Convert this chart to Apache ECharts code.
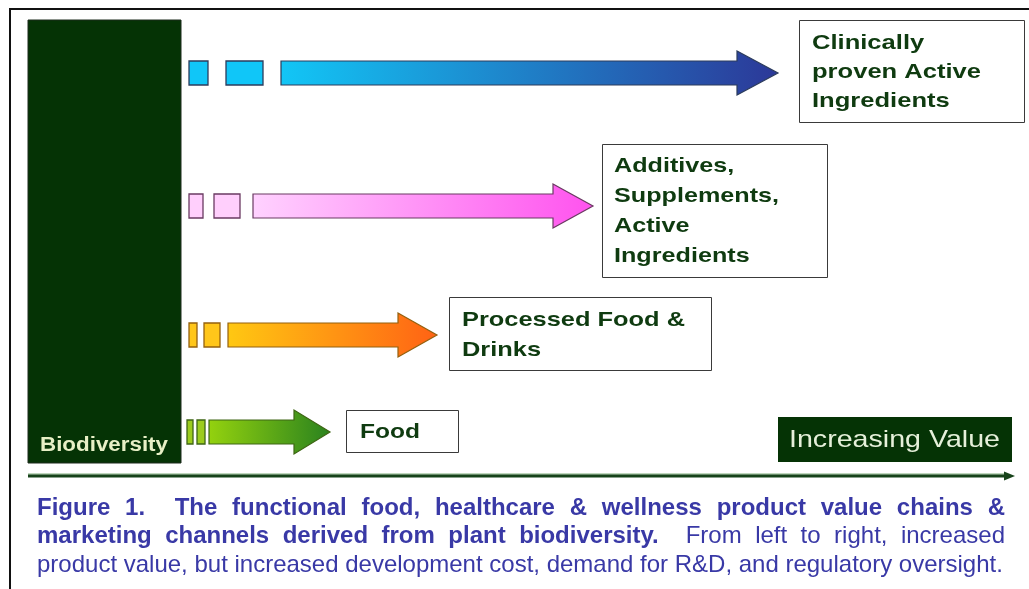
<!DOCTYPE html>
<html lang="en">
<head>
<meta charset="UTF-8">
<title>Plant biodiversity value chains</title>
<script src="https://cdn.jsdelivr.net/npm/echarts@6/dist/echarts.min.js"></script>
<style>
    html, body { margin: 0; padding: 0; background: #fff; }
    #main { width: 1029px; height: 589px; }
</style>
</head>
<body>
<div id="main"></div>
<script>
    // channels, from the bottom row to the top row
    var channels = ['Food', 'Processed Food & Drinks', 'Additives, Supplements, Active Ingredients', 'Clinically proven Active Ingredients'];
    var labelLines = [
        ['Food'],
        ['Processed Food &', 'Drinks'],
        ['Additives,', 'Supplements,', 'Active', 'Ingredients'],
        ['Clinically', 'proven Active', 'Ingredients']
    ];
    // how far right (value scale) each arrow reaches, and the level of its row
    var arrowTip = [330, 437, 593, 778];
    var rowLevel = [432, 335, 206, 73];

    var sourceName = 'Biodiversity';
    var axisName = 'Increasing Value';
    var captionLines = [
        [{ t: 'Figure 1.  The functional food, healthcare & wellness product value chains &', bold: true }],
        [{ t: 'marketing channels derived from plant biodiversity.', bold: true }, { t: ' From left to right, increased', bold: false }],
        [{ t: 'product value, but increased development cost, demand for R&D, and regulatory oversight.', bold: false }]
    ];

    // ---- layout / style (not data) ----
    var stubs = [            // square1 x0,x1, square2 x0,x1, shaft start
        [187, 193, 197, 205, 209],
        [189, 197, 204, 220, 228],
        [189, 203, 214, 240, 253],
        [189, 208, 226, 263, 281]
    ];
    var headLen = [36, 39, 40, 41];
    var shaftHalf = 12, headHalf = 22;
    var arrowColors = [
        ['#94d20e', '#2a821e'],
        ['#ffc812', '#ff6214'],
        ['#ffd2ff', '#ff52ee'],
        ['#12c6f6', '#2c3898']
    ];
    var squareColors = ['#9ccc1e', '#ffc61a', '#ffcffc', '#10c6f8'];
    var strokeColors = ['#3e6614', '#94600e', '#6a3a62', '#2c3c5c'];
    var boxes = [            // x, y, w, h, first line y, line step, text x, widest line width
        [346, 410, 112, 42, 432, 30, 360, 60],
        [449, 297, 262, 73, 320, 30, 462, 223],
        [602, 144, 225, 133, 166, 30.2, 614, 165],
        [799, 20, 225, 102, 43, 29, 812, 169]
    ];
    var darkGreen = '#053305';
    var boxTextColor = '#0f3b10';
    var captionColor = '#3939a6';

    var measureCtx = document.createElement('canvas').getContext('2d');
    function textWidth(str, font) {
        measureCtx.font = font;
        return measureCtx.measureText(str).width;
    }

    var chartDom = document.getElementById('main');
    var myChart = echarts.init(chartDom);

    // arrows with their two leading squares
    function renderArrow(params, api) {
        var i = api.value(2);
        var tip = api.value(0), lv = api.value(1);
        var s = stubs[i];
        var c = function (x, y) { return api.coord([x, y]); };
        var sq = function (x0, x1) {
            var a = c(x0, lv - shaftHalf), b = c(x1, lv + shaftHalf);
            return {
                type: 'rect',
                shape: { x: a[0], y: a[1], width: b[0] - a[0], height: b[1] - a[1] },
                style: { fill: squareColors[i], stroke: strokeColors[i], lineWidth: 1.3 }
            };
        };
        var hb = tip - headLen[i];
        var pts = [
            [s[4], lv - shaftHalf], [hb, lv - shaftHalf], [hb, lv - headHalf], [tip, lv],
            [hb, lv + headHalf], [hb, lv + shaftHalf], [s[4], lv + shaftHalf]
        ].map(function (p) { return c(p[0], p[1]); });
        return {
            type: 'group',
            children: [
                sq(s[0], s[1]),
                sq(s[2], s[3]),
                {
                    type: 'polygon',
                    shape: { points: pts },
                    style: {
                        fill: new echarts.graphic.LinearGradient(0, 0, 1, 0, [
                            { offset: 0, color: arrowColors[i][0] },
                            { offset: 1, color: arrowColors[i][1] }
                        ]),
                        stroke: strokeColors[i],
                        lineWidth: 1.2
                    }
                }
            ]
        };
    }

    // destination boxes
    function renderBox(params, api) {
        var i = api.value(0);
        var b = boxes[i];
        var a = api.coord([b[0], b[1]]), z = api.coord([b[0] + b[2], b[1] + b[3]]);
        var children = [{
            type: 'rect',
            shape: { x: a[0] + 0.5, y: a[1] + 0.5, width: z[0] - a[0], height: z[1] - a[1] },
            style: { fill: '#fff', stroke: '#3a3a3a', lineWidth: 1 }
        }];
        var font = 'bold 21px "Liberation Sans"';
        var widest = Math.max.apply(null, labelLines[i].map(function (l) { return textWidth(l, font); }));
        var sx = b[7] / widest;
        labelLines[i].forEach(function (line, k) {
            var p = api.coord([b[6], b[4] + k * b[5]]);
            children.push({
                type: 'text', x: p[0], y: p[1], scaleX: sx,
                style: {
                    text: line, x: 0, y: 0,
                    font: font, fill: boxTextColor,
                    textAlign: 'left', textVerticalAlign: 'middle'
                }
            });
        });
        return { type: 'group', children: children };
    }

    // source block and the value axis line
    function renderFrame(params, api) {
        var a = api.coord([28, 20]), z = api.coord([181, 463]);
        var la = api.coord([28, 476]), lz = api.coord([1006, 476]), tip = api.coord([1015, 476]);
        var va = api.coord([778, 417]), vz = api.coord([1012, 462]);
        var bt = api.coord([40, 445]), vt = api.coord([789, 440]);
        var bioFont = 'bold 20px "Liberation Sans"';
        var bioScale = 128 / textWidth(sourceName, bioFont);
        var valFont = '24px "Liberation Sans"';
        var valScale = 211 / textWidth(axisName, valFont);
        return {
            type: 'group',
            children: [
                { type: 'rect', shape: { x: a[0], y: a[1], width: z[0] - a[0], height: z[1] - a[1] },
                  style: { fill: darkGreen, stroke: '#1c2a1c', lineWidth: 1 } },
                { type: 'text', x: bt[0], y: bt[1], scaleX: bioScale,
                  style: { text: sourceName, x: 0, y: 0, font: bioFont, fill: '#e8f0c6',
                           textAlign: 'left', textVerticalAlign: 'middle' } },
                { type: 'line', shape: { x1: la[0], y1: la[1] - 2, x2: lz[0], y2: lz[1] - 2 },
                  style: { stroke: '#7fae7a', lineWidth: 1 } },
                { type: 'line', shape: { x1: la[0], y1: la[1], x2: lz[0], y2: lz[1] },
                  style: { stroke: '#17431a', lineWidth: 3 } },
                { type: 'polygon', shape: { points: [[lz[0] - 2, lz[1] - 4.5], tip, [lz[0] - 2, lz[1] + 4.5]] },
                  style: { fill: '#17431a' } },
                { type: 'rect', shape: { x: va[0], y: va[1], width: vz[0] - va[0], height: vz[1] - va[1] },
                  style: { fill: darkGreen } },
                { type: 'text', x: vt[0], y: vt[1], scaleX: valScale,
                  style: { text: axisName, x: 0, y: 0, font: valFont, fill: '#e6f0da',
                           textAlign: 'left', textVerticalAlign: 'middle' } }
            ]
        };
    }

    // caption: justified lines like the printed figure
    function captionGraphic() {
        var left = 37, right = 1005, top = 508, step = 28.5;
        var fs = 21;
        var base = textWidth(captionLines[2][0].t, fs + 'px "Liberation Sans"');
        fs = fs * (1003 - left) / base;
        var els = [];
        captionLines.forEach(function (segs, li) {
            var words = [];
            segs.forEach(function (seg) {
                var parts = seg.t.split(' ');
                var gap = 0;
                parts.forEach(function (w) {
                    if (w === '') { gap++; return; }
                    words.push({ t: w, bold: seg.bold, gapBefore: words.length ? gap + 1 : 0 });
                    gap = 0;
                });
            });
            var fonts = words.map(function (w) { return (w.bold ? 'bold ' : '') + fs + 'px "Liberation Sans"'; });
            var widths = words.map(function (w, k) { return textWidth(w.t, fonts[k]); });
            var total = widths.reduce(function (s, v) { return s + v; }, 0);
            var gapCount = words.reduce(function (s, w) { return s + w.gapBefore; }, 0);
            var unit = li < 2 ? (right - left - total) / gapCount : textWidth(' ', fonts[0]);
            var x = left;
            words.forEach(function (w, k) {
                x += w.gapBefore * unit;
                els.push({
                    type: 'text', x: x, y: top + li * step, silent: true,
                    style: { text: w.t, font: fonts[k], fill: captionColor, textAlign: 'left', textVerticalAlign: 'middle' }
                });
                x += widths[k];
            });
        });
        return els;
    }

    var arrowData = arrowTip.map(function (v, i) { return [v, rowLevel[i], i]; });
    var boxData = channels.map(function (n, i) { return [i, rowLevel[i]]; });

    var option = {
        animation: false,
        grid: { left: 0, right: 0, top: 0, bottom: 0 },
        xAxis: { type: 'value', min: 0, max: 1029, show: false },
        yAxis: { type: 'value', min: 0, max: 589, inverse: true, show: false },
        graphic: [
            { type: 'rect', shape: { x: 10, y: 9, width: 1060, height: 620 },
              style: { fill: 'none', stroke: '#111', lineWidth: 2 }, z: 10 }
        ].concat(captionGraphic()),
        series: [
            { type: 'custom', name: 'frame', renderItem: renderFrame, data: [[0]], silent: true },
            { type: 'custom', name: 'arrows', renderItem: renderArrow, data: arrowData, silent: true },
            { type: 'custom', name: 'boxes', renderItem: renderBox, data: boxData, silent: true }
        ]
    };
    myChart.setOption(option);
</script>
</body>
</html>
